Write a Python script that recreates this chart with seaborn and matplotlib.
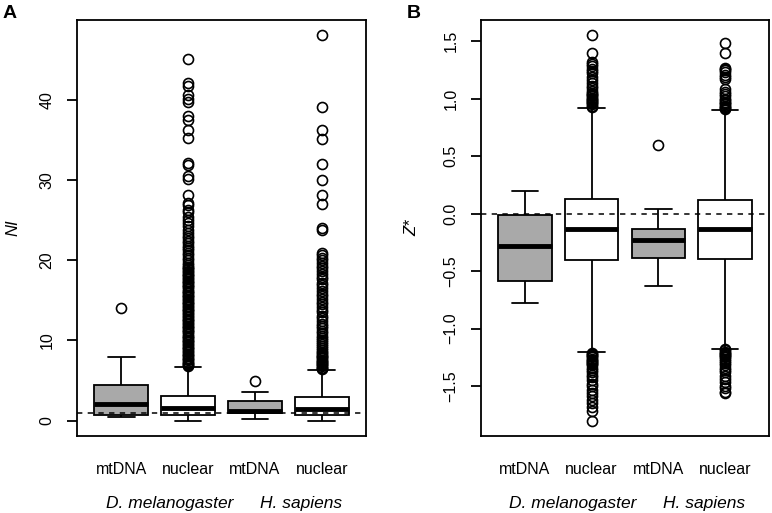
import numpy as np
import pandas as pd
import matplotlib
matplotlib.use("Agg")
import matplotlib.pyplot as plt
import seaborn as sns

# =========================
# data
# =========================
groups = ["Dm_mt", "Dm_nuc", "Hs_mt", "Hs_nuc"]
tick_labels = ["mtDNA", "nuclear", "mtDNA", "nuclear"]
species = ["D. melanogaster", "H. sapiens"]
box_fill = ["#a9a9a9", "white", "#a9a9a9", "white"]

# [lower whisker, Q1, median, Q3, upper whisker]
ni_dm_mt = [0.5, 0.7, 2.05, 4.4, 7.9]
ni_dm_nuc = [0.0, 0.7, 1.55, 3.1, 6.7]
ni_hs_mt = [0.15, 1.0, 1.25, 2.4, 3.6]
ni_hs_nuc = [0.0, 0.75, 1.4, 3.0, 6.35]

ni_dm_mt_out = [14.0]
ni_dm_nuc_out = [6.8, 6.9, 7.05, 7.2, 7.35, 7.5, 7.7, 7.85, 8.0, 8.2, 8.35, 8.5,
                 8.7, 8.9, 9.05, 9.2, 9.4, 9.6, 9.75, 9.9, 10.1, 10.3, 10.45,
                 10.6, 10.8, 11.0, 11.15, 11.3, 11.5, 11.7, 11.85, 12.0, 12.2,
                 12.4, 12.55, 12.7, 12.9, 13.1, 13.25, 13.4, 13.6, 13.8, 13.95,
                 14.1, 14.3, 14.5, 14.65, 14.8, 15.0, 15.2, 15.35, 15.5, 15.7,
                 15.9, 16.05, 16.2, 16.4, 16.6, 16.75, 16.9, 17.1, 17.3, 17.45,
                 17.6, 17.8, 18.0, 18.15, 18.3, 18.5, 18.7, 18.85, 19.0, 19.2,
                 19.4, 19.7, 20.0, 20.3, 20.6, 20.9, 21.2, 21.5, 21.8, 22.1,
                 22.4, 22.7, 23.0, 23.4, 23.8, 24.2, 24.6, 25.0, 25.4, 26.0,
                 26.3, 26.9, 27.1, 28.1, 30.1, 30.5, 31.8, 32.1, 35.2, 36.2,
                 37.4, 37.9, 39.7, 40.1, 40.6, 41.7, 42.1, 45.1]
ni_hs_mt_out = [5.0]
ni_hs_nuc_out = [6.4, 6.5, 6.6, 6.75, 6.9, 7.0, 7.15, 7.3, 7.45, 7.6, 7.75, 7.9,
                 8.05, 8.2, 8.4, 8.6, 8.8, 9.0, 9.3, 9.5, 9.8, 10.0, 10.3,
                 10.6, 10.9, 11.2, 11.5, 11.8, 12.1, 12.4, 12.8, 13.1, 13.5,
                 13.8, 14.1, 14.5, 14.8, 15.1, 15.5, 15.8, 16.2, 16.5, 16.9,
                 17.2, 17.6, 17.9, 18.3, 18.6, 19.0, 19.3, 19.7, 20.0, 20.3,
                 20.6, 20.9, 23.8, 24.0, 27.0, 28.1, 30.0, 32.0, 35.1, 36.2,
                 39.1, 48.1]

z_dm_mt = [-0.78, -0.586, -0.28, -0.01, 0.20]
z_dm_nuc = [-1.20, -0.405, -0.13, 0.125, 0.92]
z_hs_mt = [-0.63, -0.383, -0.232, -0.136, 0.044]
z_hs_nuc = [-1.175, -0.397, -0.13, 0.122, 0.90]

z_dm_mt_out = []
z_dm_nuc_out = [0.93, 0.94, 0.95, 0.96, 0.97, 0.98, 0.99, 1.0, 1.01, 1.02,
                1.03, 1.04, 1.05, 1.07, 1.09, 1.11, 1.14, 1.16, 1.19, 1.22,
                1.24, 1.26, 1.28, 1.30, 1.32, 1.40, 1.55,
                -1.21, -1.22, -1.23, -1.24, -1.25, -1.26, -1.27, -1.28, -1.29,
                -1.30, -1.31, -1.32, -1.34, -1.36, -1.38, -1.40, -1.42, -1.45,
                -1.48, -1.50, -1.53, -1.56, -1.59, -1.62, -1.65, -1.68, -1.72,
                -1.80]
z_hs_mt_out = [0.60]
z_hs_nuc_out = [0.91, 0.92, 0.93, 0.94, 0.95, 0.96, 0.97, 0.99, 1.0, 1.02,
                1.04, 1.06, 1.08, 1.17, 1.19, 1.21, 1.23, 1.25, 1.26, 1.27,
                1.40, 1.48,
                -1.18, -1.19, -1.20, -1.21, -1.22, -1.23, -1.24, -1.25, -1.26,
                -1.28, -1.30, -1.32, -1.34, -1.36, -1.38, -1.41, -1.44, -1.46,
                -1.50, -1.52, -1.55, -1.56]


def sample(summary, outliers, reps=400):
    # rebuild a sample whose quartiles/whiskers equal the read summary
    lo, q1, med, q3, hi = summary
    return [lo] + [q1] * reps + [med] * reps + [q3] * reps + [hi] + list(outliers)


def frame(summaries, outliers):
    rows = []
    for g, s, o in zip(groups, summaries, outliers):
        for v in sample(s, o):
            rows.append((g, v))
    return pd.DataFrame(rows, columns=["group", "value"])


ni_df = frame([ni_dm_mt, ni_dm_nuc, ni_hs_mt, ni_hs_nuc],
              [ni_dm_mt_out, ni_dm_nuc_out, ni_hs_mt_out, ni_hs_nuc_out])
z_df = frame([z_dm_mt, z_dm_nuc, z_hs_mt, z_hs_nuc],
             [z_dm_mt_out, z_dm_nuc_out, z_hs_mt_out, z_hs_nuc_out])

# =========================
# plot
# =========================
sns.set_style("ticks", {"axes.edgecolor": "black", "text.color": "black",
                        "xtick.color": "black", "ytick.color": "black",
                        "axes.labelcolor": "black"})
plt.rcParams["font.family"] = ["Liberation Sans", "DejaVu Sans"]

fig = plt.figure(figsize=(7.72, 5.13), dpi=100)
axA = fig.add_axes([0.0997, 0.150, 0.3744, 0.811])
axB = fig.add_axes([0.623, 0.150, 0.373, 0.811])

lw = 1.3
box_kws = dict(
    x="group", y="value", hue="group", order=groups, hue_order=groups,
    palette=box_fill, saturation=1, linecolor="black", linewidth=lw,
    width=0.8, fliersize=7.2, legend=False,
    medianprops=dict(linewidth=3.5, color="black", solid_capstyle="butt"),
    flierprops=dict(marker="o", markerfacecolor="none",
                    markeredgecolor="black", markeredgewidth=1.2),
)

panels = [(axA, ni_df, 1.0, (-1.92, 49.92), [0, 10, 20, 30, 40], "NI", "%.0f", "A", -0.195),
          (axB, z_df, 0.0, (-1.934, 1.684), [-1.5, -1.0, -0.5, 0.0, 0.5, 1.0, 1.5],
           "Z*", "%.1f", "B", -0.215)]

for ax, df, ref, ylim, yticks, ylab, fmt, letter, labx in panels:
    sns.boxplot(data=df, ax=ax, **box_kws)
    ax.axhline(ref, color="black", linestyle=(0, (3.5, 3.5)), linewidth=1.1, zorder=6)
    ax.set_xlim(-0.66, 3.66)
    ax.set_ylim(*ylim)
    ax.set_yticks(yticks)
    ax.set_yticklabels([(fmt % t).replace("-", "\u2212") for t in yticks],
                       rotation=90, va="center", fontsize=11.5)
    ax.set_xticks(range(len(groups)))
    ax.set_xticklabels(tick_labels, fontsize=11.5)
    ax.tick_params(axis="x", length=0, pad=19)
    ax.tick_params(axis="y", length=7, width=lw, pad=9)
    ax.set_xlabel("")
    ax.set_ylabel(ylab, style="italic", fontsize=12)
    ax.yaxis.set_label_coords(labx, 0.5)
    for sp in ax.spines.values():
        sp.set_visible(True)
        sp.set_linewidth(lw)
        sp.set_color("black")
    ax.text(0.32, -0.161, species[0], transform=ax.transAxes, ha="center",
            va="center", style="italic", fontsize=12.5)
    ax.text(0.775, -0.161, species[1], transform=ax.transAxes, ha="center",
            va="center", style="italic", fontsize=12.5)
    pos = ax.get_position()
    fig.text(pos.x0 - 0.096, 0.99, letter, fontweight="bold", fontsize=14,
             ha="left", va="top")

fig.savefig("out.png", dpi=100)
